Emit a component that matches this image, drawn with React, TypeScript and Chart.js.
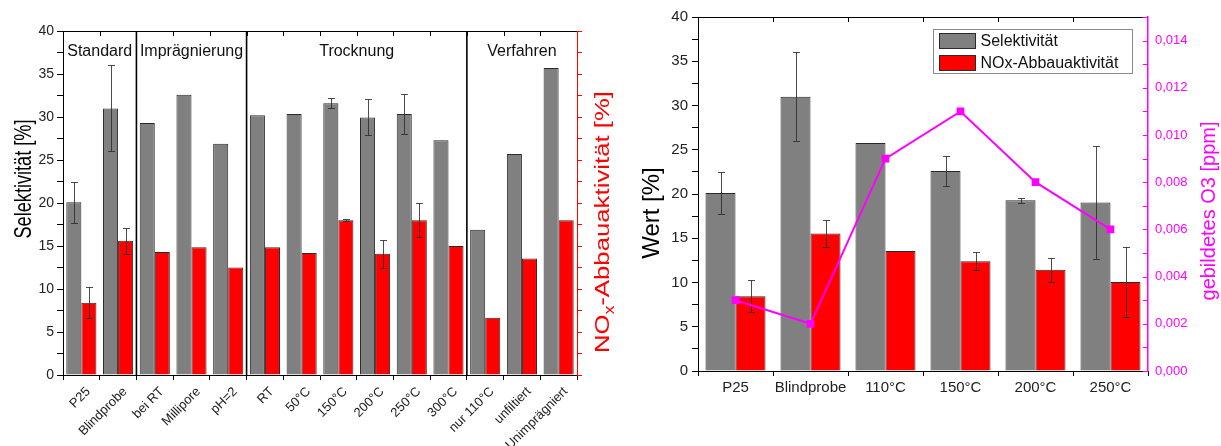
import React, { useEffect, useRef } from 'react';
import { Chart, registerables } from 'chart.js';

Chart.register(...registerables);

const FONT = '"Liberation Sans", Arial, Helvetica, sans-serif';

// ---------- Left chart data ----------
const leftCategories = ['P25', 'Blindprobe', 'bei RT', 'Millipore', 'pH=2', 'RT', '50°C', '150°C', '200°C', '250°C', '300°C', 'nur 110°C', 'unfiltiert', 'Unimprägniert'];
const leftGroupNames = ['Standard', 'Imprägnierung', 'Trocknung', 'Verfahren'];
const leftGroupSizes = [2, 3, 6, 3];
const leftSelektivitaet = [20.1, 31.0, 29.3, 32.6, 26.9, 30.2, 30.35, 31.6, 29.95, 30.35, 27.3, 16.9, 25.7, 35.7];
const leftSelektivitaetErr = [2.4, 5.0, null, null, null, null, null, 0.6, 2.1, 2.35, null, null, null, null];
const leftNox = [8.4, 15.6, 14.3, 14.85, 12.5, 14.85, 14.2, 18.0, 14.1, 18.0, 15.0, 6.66, 13.55, 18.0];
const leftNoxErr = [1.8, 1.5, null, null, null, null, null, 0.1, 1.6, 2.0, null, null, null, null];

// ---------- Right chart data ----------
const rightCategories = ['P25', 'Blindprobe', '110°C', '150°C', '200°C', '250°C'];
const rightSelektivitaet = [20.1, 31.0, 25.75, 22.6, 19.3, 19.05];
const rightSelektivitaetErr = [2.4, 5.0, null, 1.7, 0.3, 6.35];
const rightNox = [8.45, 15.55, 13.55, 12.4, 11.45, 10.05];
const rightNoxErr = [1.8, 1.5, null, 1.0, 1.35, 3.95];
const ozonePpm = [0.003, 0.002, 0.009, 0.011, 0.008, 0.006];

// ---------- Axis ranges ----------
const percentMin = 0;
const percentMax = 40;
const percentStep = 2.5;
const percentLabelEvery = 5;
const ozoneMin = 0;
const ozoneMax = 0.015;
const ozoneStep = 0.001;

const GRAY = '#808080';
const RED = '#ff0000';
const MAGENTA = '#ff00ff';
const OUTLINE = '#2a2a2a';

type Part = { text: string; size: number; dy?: number };

function drawVerticalText(ctx: CanvasRenderingContext2D, parts: Part[], cx: number, cy: number, color: string, targetLen?: number) {
  ctx.save();
  ctx.fillStyle = color;
  ctx.textAlign = 'left';
  ctx.textBaseline = 'alphabetic';
  let total = 0;
  const widths = parts.map((p) => {
    ctx.font = `${p.size}px ${FONT}`;
    const w = ctx.measureText(p.text).width;
    total += w;
    return w;
  });
  const s = targetLen ? targetLen / total : 1;
  const base = parts[0].size * 0.36;
  ctx.translate(cx, cy);
  ctx.rotate(-Math.PI / 2);
  ctx.scale(s, 1);
  let x = -total / 2;
  parts.forEach((p, i) => {
    ctx.font = `${p.size}px ${FONT}`;
    ctx.fillText(p.text, x, base + (p.dy || 0));
    x += widths[i];
  });
  ctx.restore();
}

const errorBarPlugin = {
  id: 'errorBars',
  afterDatasetDraw(chart: any, args: any) {
    const ds = chart.data.datasets[args.index];
    const errs = ds.errorBars as (number | null)[] | undefined;
    if (!errs) return;
    const meta = args.meta;
    const yScale = chart.scales[meta.yAxisID];
    const ctx = chart.ctx as CanvasRenderingContext2D;
    ctx.save();
    ctx.strokeStyle = 'rgba(45,45,45,0.85)';
    ctx.lineWidth = 1;
    meta.data.forEach((bar: any, i: number) => {
      const e = errs[i];
      if (e == null) return;
      const v = ds.data[i];
      const x = Math.round(bar.x) + 0.5;
      const yT = Math.round(yScale.getPixelForValue(v + e)) + 0.5;
      const yB = Math.round(yScale.getPixelForValue(v - e)) + 0.5;
      ctx.beginPath();
      ctx.moveTo(x, yT);
      ctx.lineTo(x, yB);
      ctx.moveTo(x - 3.5, yT);
      ctx.lineTo(x + 3.5, yT);
      ctx.moveTo(x - 3.5, yB);
      ctx.lineTo(x + 3.5, yB);
      ctx.stroke();
    });
    ctx.restore();
  },
};

function boundaryPx(xs: any, i: number) {
  return (xs.getPixelForValue(i - 1) + xs.getPixelForValue(i)) / 2;
}

function drawTopFrame(chart: any) {
  const { ctx, chartArea: ca } = chart;
  const xs = chart.scales.x;
  const n = chart.data.labels.length;
  ctx.save();
  ctx.strokeStyle = '#000';
  ctx.lineWidth = 1;
  ctx.beginPath();
  ctx.moveTo(ca.left, Math.round(ca.top) + 0.5);
  ctx.lineTo(ca.right, Math.round(ca.top) + 0.5);
  for (let i = 1; i < n; i++) {
    const bx = Math.round(boundaryPx(xs, i)) + 0.5;
    ctx.moveTo(bx, ca.top);
    ctx.lineTo(bx, ca.top + 5);
  }
  ctx.stroke();
  ctx.restore();
}

const leftDecorPlugin = {
  id: 'leftDecor',
  afterDraw(chart: any) {
    const { ctx, chartArea: ca } = chart;
    const xs = chart.scales.x;
    const n = chart.data.labels.length;
    drawTopFrame(chart);
    ctx.save();
    let start = 0;
    leftGroupSizes.forEach((size, g) => {
      const end = start + size;
      const xl = start === 0 ? ca.left : boundaryPx(xs, start);
      const xr = end >= n ? ca.right : boundaryPx(xs, end);
      if (end < n) {
        ctx.strokeStyle = '#000';
        ctx.lineWidth = 1.6;
        ctx.beginPath();
        ctx.moveTo(xr, ca.top);
        ctx.lineTo(xr, ca.bottom);
        ctx.stroke();
      }
      ctx.fillStyle = '#111';
      ctx.font = `16px ${FONT}`;
      ctx.textAlign = 'center';
      ctx.textBaseline = 'middle';
      ctx.fillText(leftGroupNames[g], (xl + xr) / 2, ca.top + 21);
      start = end;
    });
    ctx.restore();
    drawVerticalText(ctx, [{ text: 'Selektivität [%]', size: 24 }], 22, 179, '#000', 119);
    drawVerticalText(
      ctx,
      [
        { text: 'NO', size: 21 },
        { text: 'x', size: 14, dy: 5 },
        { text: '-Abbauaktivität [%]', size: 21 },
      ],
      601,
      222,
      RED,
      262
    );
  },
};

const rightDecorPlugin = {
  id: 'rightDecor',
  afterDraw(chart: any) {
    const { ctx, chartArea: ca } = chart;
    drawTopFrame(chart);
    // inward ticks of the ozone axis
    const y2 = chart.scales.y2;
    ctx.save();
    ctx.strokeStyle = MAGENTA;
    ctx.lineWidth = 1;
    ctx.beginPath();
    y2.ticks.forEach((t: any) => {
      const y = Math.round(y2.getPixelForValue(t.value)) + 0.5;
      ctx.moveTo(ca.right - 5, y);
      ctx.lineTo(ca.right, y);
    });
    ctx.stroke();
    // legend
    const bx = Math.round(ca.right - 215) + 0.5;
    const by = Math.round(ca.top + 12) + 0.5;
    ctx.strokeStyle = '#8a8a8a';
    ctx.strokeRect(bx, by, 199, 44);
    const entries = chart.data.datasets.filter((d: any) => d.type !== 'line');
    entries.forEach((d: any, i: number) => {
      const sy = by + 4 + i * 22;
      ctx.fillStyle = d.backgroundColor;
      ctx.fillRect(bx + 6, sy, 36, 15);
      ctx.strokeStyle = OUTLINE;
      ctx.strokeRect(bx + 6, sy, 36, 15);
      ctx.fillStyle = '#111';
      ctx.font = `16px ${FONT}`;
      ctx.textAlign = 'left';
      ctx.textBaseline = 'middle';
      ctx.fillText(d.label, bx + 47, sy + 8);
    });
    ctx.restore();
    drawVerticalText(ctx, [{ text: 'Wert [%]', size: 24 }], 35, 213, '#000');
    drawVerticalText(ctx, [{ text: 'gebildetes O3 [ppm]', size: 20 }], 593, 211, MAGENTA);
  },
};

function percentTick(v: any) {
  return Math.abs(v % percentLabelEvery) < 1e-9 ? String(v) : '';
}

function leftConfig(): any {
  return {
    type: 'bar',
    data: {
      labels: leftCategories,
      datasets: [
        {
          label: 'Selektivität',
          data: leftSelektivitaet,
          errorBars: leftSelektivitaetErr,
          backgroundColor: GRAY,
          borderColor: OUTLINE,
          borderWidth: 1,
          yAxisID: 'y',
          categoryPercentage: 0.82,
          barPercentage: 1,
        },
        {
          label: 'NOx-Abbauaktivität',
          data: leftNox,
          errorBars: leftNoxErr,
          backgroundColor: RED,
          borderColor: OUTLINE,
          borderWidth: 1,
          yAxisID: 'y2',
          categoryPercentage: 0.82,
          barPercentage: 1,
        },
      ],
    },
    options: {
      responsive: false,
      animation: false,
      layout: { padding: { top: 31, left: 0, right: 0, bottom: 0 } },
      plugins: { legend: { display: false }, tooltip: { enabled: false } },
      scales: {
        x: {
          offset: true,
          grid: { offset: true, drawOnChartArea: false, tickLength: 5, color: '#000' },
          border: { color: '#000', width: 1 },
          ticks: { minRotation: 45, maxRotation: 45, autoSkip: false, color: '#222', font: { family: FONT, size: 13 }, padding: 4, labelOffset: 7 },
          afterFit: (s: any) => { s.height = 71; },
        },
        y: {
          position: 'left',
          min: percentMin,
          max: percentMax,
          ticks: { stepSize: percentStep, maxTicksLimit: 100, callback: percentTick, color: '#222', font: { family: FONT, size: 14 }, padding: 3 },
          grid: { drawOnChartArea: false, tickLength: 6, color: '#000' },
          border: { color: '#000', width: 1 },
          afterFit: (s: any) => { s.width = 63; },
        },
        y2: {
          position: 'right',
          min: percentMin,
          max: percentMax,
          ticks: { stepSize: percentStep, maxTicksLimit: 100, display: false },
          grid: { drawOnChartArea: false, tickLength: 5, color: RED },
          border: { color: RED, width: 1 },
          afterFit: (s: any) => { s.width = 38; },
        },
      },
    },
    plugins: [errorBarPlugin, leftDecorPlugin],
  };
}

function rightConfig(): any {
  return {
    type: 'bar',
    data: {
      labels: rightCategories,
      datasets: [
        {
          type: 'line',
          label: 'gebildetes O3',
          data: ozonePpm,
          yAxisID: 'y2',
          borderColor: MAGENTA,
          backgroundColor: MAGENTA,
          borderWidth: 2,
          pointStyle: 'rect',
          pointRadius: 4,
          order: -1,
        },
        {
          label: 'Selektivität',
          data: rightSelektivitaet,
          errorBars: rightSelektivitaetErr,
          backgroundColor: GRAY,
          borderColor: OUTLINE,
          borderWidth: 1,
          yAxisID: 'y',
          categoryPercentage: 0.8,
          barPercentage: 1,
        },
        {
          label: 'NOx-Abbauaktivität',
          data: rightNox,
          errorBars: rightNoxErr,
          backgroundColor: RED,
          borderColor: OUTLINE,
          borderWidth: 1,
          yAxisID: 'y',
          categoryPercentage: 0.8,
          barPercentage: 1,
        },
      ],
    },
    options: {
      responsive: false,
      animation: false,
      layout: { padding: { top: 17, left: 0, right: 0, bottom: 0 } },
      plugins: { legend: { display: false }, tooltip: { enabled: false } },
      scales: {
        x: {
          offset: true,
          grid: { offset: true, drawOnChartArea: false, tickLength: 5, color: '#000' },
          border: { color: '#000', width: 1 },
          ticks: { maxRotation: 0, autoSkip: false, color: '#222', font: { family: FONT, size: 15 }, padding: 3 },
          afterFit: (s: any) => { s.height = 75; },
        },
        y: {
          position: 'left',
          min: percentMin,
          max: percentMax,
          ticks: { stepSize: percentStep, maxTicksLimit: 100, callback: percentTick, color: '#222', font: { family: FONT, size: 15 }, padding: 4 },
          grid: { drawOnChartArea: false, tickLength: 6, color: '#000' },
          border: { color: '#000', width: 1 },
          afterFit: (s: any) => { s.width = 83; },
        },
        y2: {
          position: 'right',
          min: ozoneMin,
          max: ozoneMax,
          ticks: {
            stepSize: ozoneStep,
            maxTicksLimit: 100,
            callback: (v: any) => (Math.round(v * 1000) % 2 === 0 ? Number(v).toFixed(3).replace('.', ',') : ''),
            color: MAGENTA,
            font: { family: FONT, size: 13 },
            padding: 7,
          },
          grid: { drawOnChartArea: false, drawTicks: false, color: MAGENTA },
          border: { color: MAGENTA, width: 1.5 },
          afterFit: (s: any) => { s.width = 73; },
        },
      },
    },
    plugins: [errorBarPlugin, rightDecorPlugin],
  };
}

export default function App() {
  const leftRef = useRef<HTMLCanvasElement>(null);
  const rightRef = useRef<HTMLCanvasElement>(null);
  useEffect(() => {
    const c1 = new Chart(leftRef.current as HTMLCanvasElement, leftConfig());
    const c2 = new Chart(rightRef.current as HTMLCanvasElement, rightConfig());
    return () => {
      c1.destroy();
      c2.destroy();
    };
  }, []);
  return (
    <div style={{ position: 'fixed', left: 0, top: 0, width: 1221, height: 446, background: '#fff' }}>
      <canvas ref={leftRef} width={615} height={446} style={{ position: 'absolute', left: 0, top: 0, width: 615, height: 446 }} />
      <canvas ref={rightRef} width={606} height={446} style={{ position: 'absolute', left: 615, top: 0, width: 606, height: 446 }} />
    </div>
  );
}
